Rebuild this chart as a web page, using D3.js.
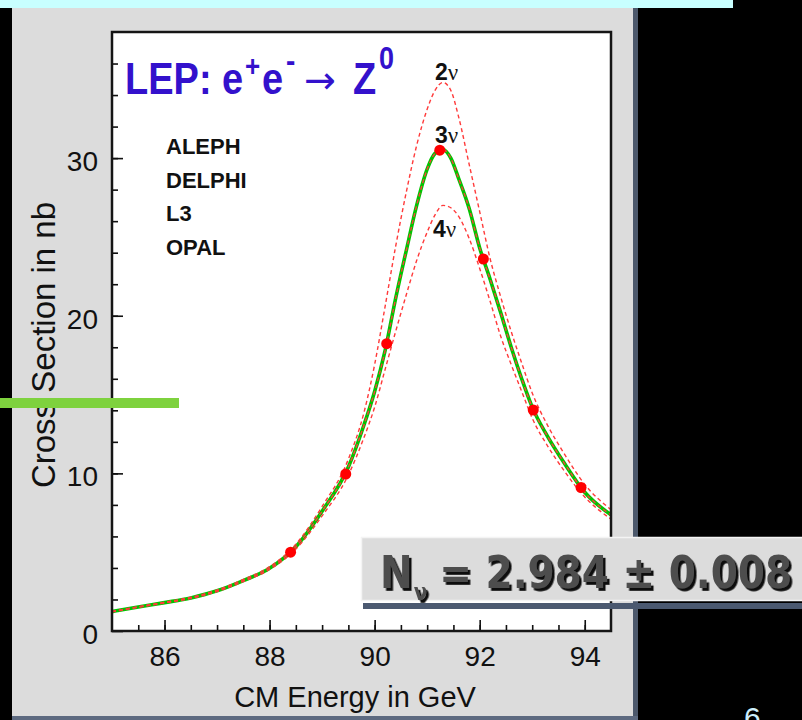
<!DOCTYPE html>
<html>
<head>
<meta charset="utf-8">
<script src="https://cdn.jsdelivr.net/npm/d3@7/dist/d3.min.js"></script>
<style>
  html, body { margin: 0; padding: 0; background: #000; }
  svg { display: block; }
</style>
</head>
<body>
<div id="chart"></div>
<script>
// centre-of-mass energies (GeV) at which the lineshape curves were read
const energies = [85.0, 85.5, 86.0, 86.5, 87.0, 87.5, 88.0, 88.5, 89.0, 89.5, 89.8, 90.0, 90.2, 90.4, 90.6, 90.8,
                  91.0, 91.15, 91.3, 91.45, 91.6, 91.8, 92.0, 92.2, 92.4, 92.6, 92.8, 93.0, 93.3, 93.6, 94.0, 94.5];
// cross sections in nb
const sigma3nu = [1.23, 1.52, 1.80, 2.10, 2.55, 3.20, 3.98, 5.35, 7.6, 10.4, 13.1, 15.2, 17.8, 21.1, 24.1, 27.0,
                  29.3, 30.3, 30.55, 30.0, 28.7, 26.8, 24.3, 22.3, 20.2, 18.0, 16.0, 14.2, 12.3, 10.7, 8.8, 7.37];
const sigma2nu = [1.25, 1.54, 1.83, 2.14, 2.60, 3.27, 4.08, 5.5, 7.9, 10.9, 13.9, 16.9, 20.6, 24.4, 27.8, 30.8,
                  33.1, 34.3, 34.8, 34.3, 32.6, 29.6, 26.6, 23.6, 21.2, 19.0, 17.0, 15.1, 13.0, 11.3, 9.3, 7.7];
const sigma4nu = [1.21, 1.50, 1.77, 2.06, 2.50, 3.14, 3.90, 5.2, 7.3, 9.9, 12.3, 14.2, 16.6, 19.0, 21.3, 23.5,
                  25.3, 26.4, 27.0, 26.85, 26.3, 24.9, 23.0, 20.9, 18.7, 16.9, 15.2, 13.5, 11.7, 10.2, 8.5, 7.1];
// measured points
const dataEnergy = [88.40, 89.45, 90.23, 91.24, 92.07, 93.02, 93.93];
const dataSigma = [5.0, 9.96, 18.23, 30.5, 23.6, 14.02, 9.1];

const xTicks = [86, 88, 90, 92, 94];
const yTicks = [0, 10, 20, 30];
const experiments = ['ALEPH', 'DELPHI', 'L3', 'OPAL'];
const nuLabels = ['2', '3', '4'];

const lineshape = (() => {
    let svg;
    const PLOT = {left: 112, right: 611, top: 32, bottom: 631};
    const SANS = '"Liberation Sans", Arial, Helvetica, sans-serif';

    const x = d3.scaleLinear().domain([85, 94.5]).range([PLOT.left, PLOT.right]);
    const y = d3.scaleLinear().domain([0, 38]).range([PLOT.bottom, PLOT.top]);

    // text with an optional vertical stretch, like the scanned slide
    const label = (parent, str, px, py, o = {}) => parent.append('text')
        .attr('transform', `translate(${px},${py}) scale(1,${o.sy || 1})`)
        .attr('font-family', o.family || SANS)
        .attr('font-size', o.size || 28)
        .attr('font-weight', o.weight || 'normal')
        .attr('text-anchor', o.anchor || 'start')
        .attr('fill', o.fill || '#111')
        .text(str);

    const appendSVG = () => {
        svg = d3.select('#chart').append('svg')
            .attr('width', 802)
            .attr('height', 720);

        const defs = svg.append('defs');
        defs.append('filter').attr('id', 'emboss')
            .attr('x', '-10%').attr('y', '-10%').attr('width', '130%').attr('height', '140%')
            .append('feDropShadow')
            .attr('dx', 2.5).attr('dy', 2.5).attr('stdDeviation', 0.4)
            .attr('flood-color', '#111').attr('flood-opacity', 1);
        defs.append('clipPath').attr('id', 'plot-clip')
            .append('rect')
            .attr('x', PLOT.left).attr('y', PLOT.top)
            .attr('width', PLOT.right - PLOT.left).attr('height', PLOT.bottom - PLOT.top);

        svg.append('rect').attr('width', 802).attr('height', 720).attr('fill', '#000');
        svg.append('rect').attr('x', 0).attr('y', 0).attr('width', 733).attr('height', 8).attr('fill', '#c8ffff');
        svg.append('rect').attr('x', 12).attr('y', 8).attr('width', 621).attr('height', 708).attr('fill', '#dcdcdc');
        svg.append('rect').attr('x', 633).attr('y', 8).attr('width', 5).attr('height', 712).attr('fill', '#4c586b');
        svg.append('rect').attr('x', 12).attr('y', 716).attr('width', 626).attr('height', 4).attr('fill', '#5d6a80');

        svg.append('rect')
            .attr('x', PLOT.left).attr('y', PLOT.top)
            .attr('width', PLOT.right - PLOT.left).attr('height', PLOT.bottom - PLOT.top)
            .attr('fill', '#fff');
    };

    const drawAxes = () => {
        const tickStyle = g => {
            g.select('.domain').remove();
            g.selectAll('line').attr('stroke', '#111').attr('stroke-width', 1.6);
        };

        // x ticks point up into the frame
        svg.append('g').attr('transform', `translate(0,${PLOT.bottom})`)
            .call(d3.axisTop(x).tickValues(d3.range(85.5, 94.5, 0.5)).tickSize(6).tickFormat(''))
            .call(tickStyle);
        svg.append('g').attr('transform', `translate(0,${PLOT.bottom})`)
            .call(d3.axisTop(x).tickValues(xTicks).tickSize(11).tickFormat(''))
            .call(tickStyle);

        // y ticks point right into the frame
        svg.append('g').attr('transform', `translate(${PLOT.left},0)`)
            .call(d3.axisRight(y).tickValues(d3.range(2, 38, 2)).tickSize(6).tickFormat(''))
            .call(tickStyle);
        svg.append('g').attr('transform', `translate(${PLOT.left},0)`)
            .call(d3.axisRight(y).tickValues(yTicks).tickSize(11).tickFormat(''))
            .call(tickStyle);

        const xl = svg.append('g').attr('transform', `translate(0,${PLOT.bottom})`)
            .call(d3.axisBottom(x).tickValues(xTicks).tickSize(0).tickPadding(15).tickFormat(d3.format('d')));
        xl.select('.domain').remove();
        xl.attr('font-size', 28).attr('font-family', SANS).attr('color', '#111');

        const yl = svg.append('g').attr('transform', `translate(${PLOT.left},0)`)
            .call(d3.axisLeft(y).tickValues(yTicks).tickSize(0).tickPadding(14).tickFormat(d3.format('d')));
        yl.select('.domain').remove();
        yl.attr('font-size', 28).attr('font-family', SANS).attr('color', '#111');
        yl.selectAll('text').attr('dy', '0.45em');

        label(svg, 'CM Energy in GeV', 355, 707, {anchor: 'middle', size: 29});
        svg.append('text')
            .attr('transform', 'translate(55,345) rotate(-90)')
            .attr('font-family', SANS).attr('font-size', 33)
            .attr('text-anchor', 'middle').attr('fill', '#111')
            .text('Cross Section in nb');
    };

    const drawCurves = () => {
        const line = d3.line()
            .x(d => x(d[0]))
            .y(d => y(d[1]))
            .curve(d3.curveMonotoneX);
        const g = svg.append('g').attr('clip-path', 'url(#plot-clip)');

        g.append('path')
            .attr('d', line(d3.zip(energies, sigma3nu)))
            .attr('fill', 'none').attr('stroke', '#00c400').attr('stroke-width', 3.6);

        [sigma2nu, sigma4nu, sigma3nu].forEach(s => {
            g.append('path')
                .attr('d', line(d3.zip(energies, s)))
                .attr('fill', 'none').attr('stroke', '#ff3a3a')
                .attr('stroke-width', 1.4).attr('stroke-dasharray', '4 3');
        });

        g.selectAll('.pt')
            .data(d3.zip(dataEnergy, dataSigma))
            .enter()
            .append('circle')
            .attr('class', 'pt')
            .attr('cx', d => x(d[0]))
            .attr('cy', d => y(d[1]))
            .attr('r', 5.5)
            .attr('fill', '#ff0000');

        svg.append('rect')
            .attr('x', PLOT.left).attr('y', PLOT.top)
            .attr('width', PLOT.right - PLOT.left).attr('height', PLOT.bottom - PLOT.top)
            .attr('fill', 'none').attr('stroke', '#151515').attr('stroke-width', 2.5);
    };

    const drawLabels = () => {
        const blue = '#3311cc';
        const t = {weight: 'bold', fill: blue, sy: 1.15};
        label(svg, 'LEP:', 125, 94, {...t, size: 38});
        label(svg, 'e', 222, 94, {...t, size: 38});
        label(svg, '+', 245, 76, {...t, size: 26});
        label(svg, 'e', 262, 94, {...t, size: 38});
        label(svg, '-', 286, 71, {...t, size: 28});
        label(svg, '\u2192', 304, 93, {fill: blue, size: 38, family: '"DejaVu Sans", sans-serif'});
        label(svg, 'Z', 353, 94, {...t, size: 38});
        label(svg, '0', 379, 69, {...t, size: 27});

        experiments.forEach((e, i) => {
            label(svg, e, 166, 154 + i * 33.7, {weight: 'bold', size: 22});
        });

        const nuY = [80, 143, 237];
        nuLabels.forEach((n, i) => {
            const tx = svg.append('text')
                .attr('x', i === 2 ? 433 : 435).attr('y', nuY[i])
                .attr('font-size', 23).attr('fill', '#111');
            tx.append('tspan').attr('font-family', SANS).attr('font-weight', 'bold').text(n);
            tx.append('tspan').attr('font-family', '"Liberation Serif", "DejaVu Serif", serif').text('\u03bd');
        });
    };

    const drawOverlay = () => {
        // stray green rule of the slide
        svg.append('rect').attr('x', 0).attr('y', 398).attr('width', 179).attr('height', 10).attr('fill', '#7ed23e');

        // N_nu result box
        svg.append('rect').attr('x', 363).attr('y', 603).attr('width', 439).attr('height', 6).attr('fill', '#4b5970');
        svg.append('rect').attr('x', 361.5).attr('y', 537.5).attr('width', 445).attr('height', 63)
            .attr('fill', '#dcdcdc').attr('stroke', '#f4f4f4').attr('stroke-width', 1.5);

        const nv = svg.append('text')
            .attr('transform', 'translate(380,588) scale(1,1.13)')
            .attr('font-family', '"DejaVu Sans", Verdana, sans-serif')
            .attr('font-weight', 'bold').attr('font-size', 39)
            .attr('fill', '#4e4e4e')
            .attr('filter', 'url(#emboss)');
        nv.append('tspan').text('N');
        nv.append('tspan').attr('font-size', 20).attr('dx', 1).attr('dy', 11).text('\u03bd');
        nv.append('tspan').attr('dx', 12).attr('dy', -11).text('= 2.984 \u00b1 0.008');

        label(svg, '6', 744, 728, {size: 30, fill: '#cdeefc'});
    };

    const draw = () => {
        appendSVG();
        drawAxes();
        drawCurves();
        drawLabels();
        drawOverlay();
    };

    return {
        draw: draw
    };
})();

lineshape.draw();
</script>
</body>
</html>
